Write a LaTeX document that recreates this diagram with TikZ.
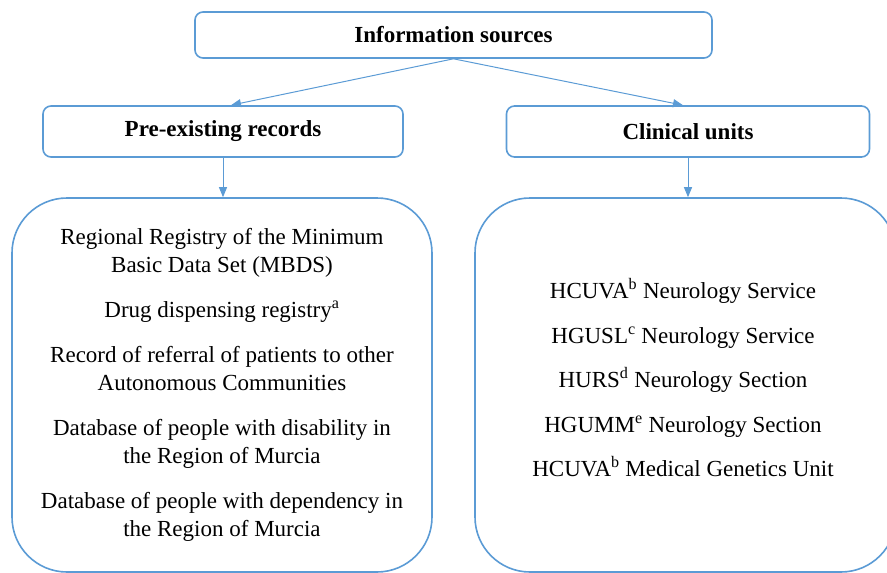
\documentclass[tikz,border=0pt]{standalone}
\usepackage{fontspec}
\setmainfont{Liberation Serif}
\usepackage{tikz}
\usetikzlibrary{arrows.meta}
\definecolor{boxblue}{RGB}{91,155,213}

\begin{document}
\begin{tikzpicture}[x=1pt,y=-1pt,
    headbox/.style={draw=boxblue,line width=1.6pt,rounded corners=8pt,inner sep=0pt,
      font=\bfseries\fontsize{23}{28}\selectfont},
    listbox/.style={draw=boxblue,line width=1.6pt,rounded corners=55pt,inner sep=0pt,
      align=center,font=\fontsize{23}{28}\selectfont},
    link/.style={draw=boxblue,line width=1pt,-{Triangle[length=10pt,width=8pt]}}]

        \clip (0,0) rectangle (887,573);

        \node[headbox,minimum width=517pt,minimum height=46pt] (info) at (453.5,35) {Information sources};
        \node[headbox,minimum width=360pt,minimum height=51pt] (pre) at (223,131.5) {Pre-existing records};
        \node[headbox,minimum width=363pt,minimum height=51pt] (clin) at (688,131.5) {Clinical units};

        \node[listbox,minimum width=420pt,minimum height=374pt] (prelist) at (222,385)
          {Regional Registry of the Minimum\\ Basic Data Set (MBDS)\\[17pt]
           Drug dispensing registry\textsuperscript{a}\\[17pt]
           Record of referral of patients to other\\ Autonomous Communities\\[17pt]
           Database of people with disability in\\ the Region of Murcia\\[17pt]
           Database of people with dependency in\\ the Region of Murcia};
        \node[listbox,minimum width=421pt,minimum height=374pt] (clinlist) at (685.5,385) {};
        \node[align=center,font=\fontsize{23}{28}\selectfont] (units) at (683,378)
          {HCUVA\textsuperscript{b} Neurology Service\\[16.5pt]
           HGUSL\textsuperscript{c} Neurology Service\\[16.5pt]
           HURS\textsuperscript{d} Neurology Section\\[16.5pt]
           HGUMM\textsuperscript{e} Neurology Section\\[16.5pt]
           HCUVA\textsuperscript{b} Medical Genetics Unit};

        \draw[link] (info.south) -- ([xshift=8pt]pre.north);
        \draw[link] (info.south) -- ([xshift=-5pt]clin.north);
        \draw[link] (pre.south) -- (pre.south |- prelist.north);
        \draw[link] (clin.south) -- (clin.south |- clinlist.north);

\end{tikzpicture}
\end{document}
